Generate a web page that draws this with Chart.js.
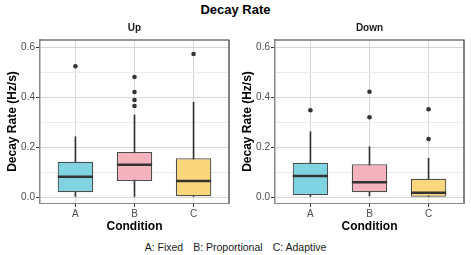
<!DOCTYPE html>
<html>
<head>
<meta charset="utf-8">
<script src="https://cdn.jsdelivr.net/npm/chart.js@4"></script>
<style>
  body { margin: 0; background: #fff; }
  #wrap { position: relative; width: 471px; height: 255px; background: #fff; font-family: 'Liberation Sans', Arial, sans-serif; }
  #titulo { position: absolute; left: 0; top: 2px; width: 471px; text-align: center; font-weight: bold; font-size: 13px; line-height: 15px; color: #000; }
  #legenda { position: absolute; left: 0; top: 241px; width: 471px; text-align: center; font-size: 10.5px; line-height: 13px; color: #1a1a1a; }
  #legenda span + span { margin-left: 10px; }
  canvas { position: absolute; top: 16px; }
</style>
</head>
<body>
<div id="wrap">
  <div id="titulo">Decay Rate</div>
  <canvas id="graficoUp" width="235" height="220" style="left:0"></canvas>
  <canvas id="graficoDown" width="235" height="220" style="left:235px"></canvas>
  <div id="legenda"><span>A: Fixed</span><span>B: Proportional</span><span>C: Adaptive</span></div>
</div>
<script>
// categorias e valores
const categorias = ['A', 'B', 'C'];
const coresCaixa = ['#80d3e1', '#f5b3bd', '#fbd77c'];

const upMin = [0.0, 0.0, 0.0];
const upQ1 = [0.019, 0.064, 0.003];
const upMediana = [0.081, 0.129, 0.064];
const upQ3 = [0.141, 0.180, 0.155];
const upMax = [0.241, 0.328, 0.379];
const upOutliers = [[0.523], [0.480, 0.420, 0.388, 0.364], [0.572]];

const downMin = [0.0, 0.004, 0.0];
const downQ1 = [0.007, 0.019, 0.001];
const downMediana = [0.084, 0.059, 0.017];
const downQ3 = [0.137, 0.131, 0.073];
const downMax = [0.261, 0.201, 0.155];
const downOutliers = [[0.347], [0.421, 0.319], [0.232, 0.351]];

const yMajor = [0, 0.2, 0.4, 0.6];
const yMinor = [0.1, 0.3, 0.5];

const fonte = "'Liberation Sans', Arial, sans-serif";

function ehMajor(v) {
  return yMajor.some(m => Math.abs(m - v) < 1e-6);
}

// borda de cima e da direita do painel
const bordaPainel = {
  id: 'bordaPainel',
  afterDraw(chart) {
    const { ctx, chartArea } = chart;
    ctx.save();
    ctx.strokeStyle = '#333';
    ctx.lineWidth = 1.2;
    ctx.beginPath();
    ctx.moveTo(chartArea.left, chartArea.top);
    ctx.lineTo(chartArea.right, chartArea.top);
    ctx.lineTo(chartArea.right, chartArea.bottom);
    ctx.stroke();
    ctx.restore();
  }
};

function renderizaPainel(id, titulo, mins, q1, med, q3, maxs, outliers) {
  const pontosFora = [];
  outliers.forEach((lista, i) => lista.forEach(v => pontosFora.push({ x: i + 1, y: v })));

  return new Chart(document.getElementById(id), {
    type: 'bar',
    data: {
      datasets: [
        {
          // bigodes (linha fina por tras da caixa)
          type: 'bar',
          data: categorias.map((c, i) => ({ x: i + 1, y: [mins[i], maxs[i]] })),
          backgroundColor: '#333',
          barThickness: 1,
          grouped: false,
          order: 4
        },
        {
          type: 'bar',
          data: categorias.map((c, i) => ({ x: i + 1, y: [q1[i], q3[i]] })),
          backgroundColor: coresCaixa,
          borderColor: '#4d4d4d',
          borderWidth: 1.2,
          borderSkipped: false,
          categoryPercentage: 1,
          barPercentage: 0.6,
          grouped: false,
          order: 3
        },
        {
          type: 'line',
          data: categorias.map((c, i) => ({ x: i + 1, y: med[i] })),
          showLine: false,
          pointStyle: 'line',
          pointRadius: 17.6,
          pointBorderWidth: 2.4,
          pointBorderColor: '#333',
          order: 2
        },
        {
          type: 'line',
          data: pontosFora,
          showLine: false,
          pointStyle: 'circle',
          pointRadius: 2.3,
          pointBackgroundColor: '#333',
          pointBorderWidth: 0,
          order: 1
        }
      ]
    },
    options: {
      responsive: false,
      animation: false,
      layout: { autoPadding: false, padding: { right: 6, left: 0, top: 0, bottom: 0 } },
      plugins: {
        legend: { display: false },
        tooltip: { enabled: false },
        title: {
          display: true,
          text: titulo,
          fullSize: false,
          color: '#1a1a1a',
          font: { family: fonte, size: 10, weight: 'bold' },
          padding: { top: 6, bottom: 6 }
        }
      },
      scales: {
        x: {
          type: 'linear',
          offset: false,
          min: 0.4,
          max: 3.6,
          afterBuildTicks: s => { s.ticks = categorias.map((c, i) => ({ value: i + 1 })); },
          afterFit: s => { s.height = 33; },
          ticks: {
            callback: v => categorias[v - 1],
            color: '#4d4d4d',
            font: { family: fonte, size: 10 },
            padding: 1,
            maxRotation: 0
          },
          grid: { offset: false, color: '#d6d6d6', lineWidth: 1, tickLength: 4, tickColor: '#333' },
          border: { color: '#888', width: 1 },
          title: {
            display: true,
            text: 'Condition',
            color: '#000',
            font: { family: fonte, size: 12, weight: 'bold' },
            padding: { top: 0, bottom: 2 }
          }
        },
        y: {
          min: -0.024,
          max: 0.628,
          afterBuildTicks: s => { s.ticks = yMajor.concat(yMinor).sort().map(v => ({ value: v })); },
          afterFit: s => { s.width = 40; },
          ticks: {
            callback: v => ehMajor(v) ? v.toFixed(1) : '',
            color: '#4d4d4d',
            font: { family: fonte, size: 10 },
            padding: 1
          },
          grid: {
            color: c => ehMajor(c.tick.value) ? '#d6d6d6' : '#ececec',
            lineWidth: 1,
            tickLength: 4,
            tickColor: c => ehMajor(c.tick.value) ? '#333' : 'rgba(0,0,0,0)'
          },
          border: { color: '#888', width: 1.5 },
          title: {
            display: true,
            text: 'Decay Rate (Hz/s)',
            color: '#000',
            font: { family: fonte, size: 12, weight: 'bold' },
            padding: { top: 5, bottom: 0 }
          }
        }
      }
    },
    plugins: [bordaPainel]
  });
}

renderizaPainel('graficoUp', 'Up', upMin, upQ1, upMediana, upQ3, upMax, upOutliers);
renderizaPainel('graficoDown', 'Down', downMin, downQ1, downMediana, downQ3, downMax, downOutliers);
</script>
</body>
</html>
